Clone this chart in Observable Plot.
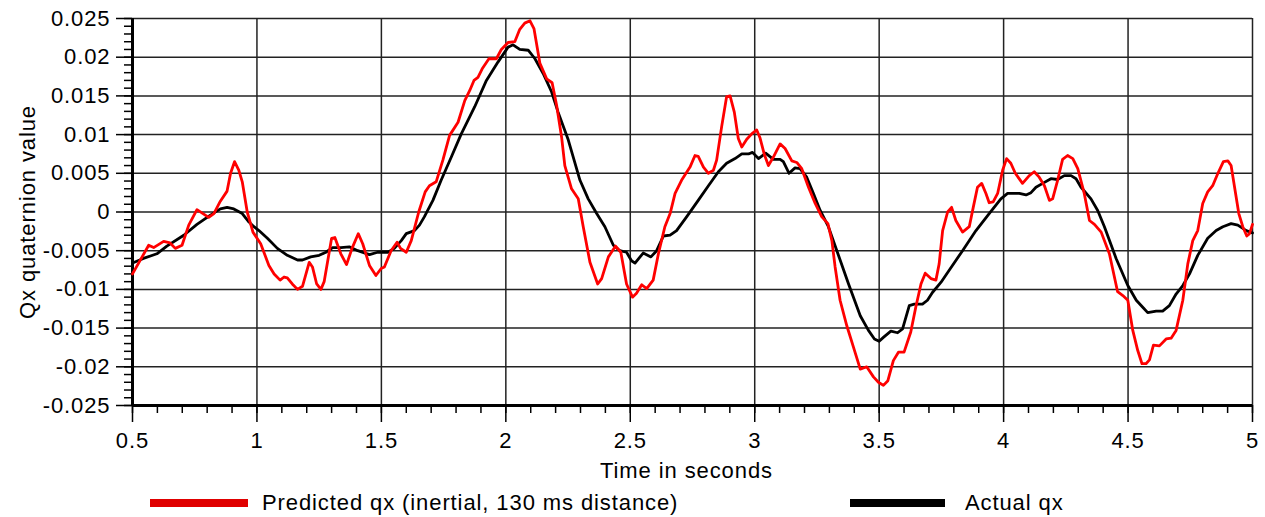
<!DOCTYPE html>
<html>
<head>
<meta charset="utf-8">
<script src="https://cdn.jsdelivr.net/npm/d3@7"></script>
<script src="https://cdn.jsdelivr.net/npm/@observablehq/plot@0.6"></script>
<style>
  body { margin: 0; background: #fff; font-family: "Liberation Sans", Arial, sans-serif; }
  #legend { position: relative; width: 1265px; height: 29px; font-size: 22px; letter-spacing: 0.9px; color: #000; }
  .sw { position: absolute; top: 11px; height: 8px; }
  .lb { position: absolute; top: 2px; line-height: 25px; white-space: nowrap; }
</style>
</head>
<body>
<div id="chart"></div>
<div id="legend">
  <div class="sw" style="left:150px;width:98px;background:#e00000;"></div>
  <div class="lb" style="left:262px;">Predicted qx (inertial, 130 ms distance)</div>
  <div class="sw" style="left:850px;width:95px;background:#000;"></div>
  <div class="lb" style="left:965px;">Actual qx</div>
</div>
<script>
// Predicted qx (inertial, 130 ms distance)
const predT = [0.5,0.565,0.585,0.625,0.651,0.672,0.699,0.726,0.759,0.806,0.827,0.853,0.880,0.894,0.910,0.927,0.941,0.961,0.984,1.015,1.048,1.069,1.093,1.109,1.122,1.142,1.163,1.183,1.210,1.223,1.240,1.257,1.270,1.300,1.313,1.337,1.360,1.382,1.407,1.425,1.452,1.478,1.499,1.512,1.539,1.563,1.577,1.600,1.620,1.650,1.676,1.693,1.720,1.747,1.774,1.808,1.835,1.855,1.872,1.888,1.905,1.932,1.962,1.982,2.009,2.036,2.056,2.076,2.097,2.113,2.137,2.164,2.186,2.204,2.224,2.237,2.264,2.291,2.311,2.338,2.369,2.385,2.412,2.441,2.462,2.485,2.509,2.525,2.546,2.566,2.592,2.613,2.639,2.660,2.680,2.706,2.740,2.760,2.773,2.794,2.814,2.834,2.847,2.867,2.887,2.901,2.918,2.934,2.948,2.968,2.988,3.008,3.021,3.038,3.055,3.075,3.102,3.122,3.149,3.169,3.189,3.216,3.243,3.269,3.294,3.310,3.323,3.343,3.370,3.397,3.424,3.450,3.477,3.497,3.517,3.535,3.557,3.578,3.600,3.627,3.647,3.668,3.685,3.708,3.728,3.741,3.755,3.775,3.791,3.808,3.835,3.862,3.878,3.895,3.912,3.929,3.942,3.958,3.976,3.996,4.012,4.029,4.047,4.076,4.103,4.123,4.143,4.164,4.184,4.197,4.217,4.237,4.257,4.278,4.298,4.324,4.345,4.365,4.392,4.425,4.458,4.479,4.499,4.519,4.539,4.556,4.572,4.586,4.602,4.626,4.653,4.673,4.693,4.720,4.740,4.760,4.780,4.800,4.820,4.840,4.861,4.883,4.901,4.914,4.928,4.945,4.961,4.977,4.988,5.000];
const predQ = [-0.0080,-0.0043,-0.0046,-0.0038,-0.0040,-0.0047,-0.0043,-0.0017,0.0003,-0.0007,-0.0002,0.0014,0.0027,0.0050,0.0065,0.0054,0.0039,0.0000,-0.0026,-0.0041,-0.0069,-0.0080,-0.0088,-0.0084,-0.0085,-0.0093,-0.0100,-0.0096,-0.0065,-0.0071,-0.0093,-0.0100,-0.0090,-0.0034,-0.0033,-0.0054,-0.0068,-0.0047,-0.0028,-0.0041,-0.0069,-0.0082,-0.0073,-0.0071,-0.0050,-0.0039,-0.0047,-0.0052,-0.0037,0.0000,0.0026,0.0034,0.0039,0.0067,0.0099,0.0116,0.0144,0.0157,0.0170,0.0174,0.0185,0.0198,0.0198,0.0210,0.0219,0.0220,0.0236,0.0244,0.0247,0.0237,0.0192,0.0172,0.0167,0.0138,0.0097,0.0060,0.0030,0.0017,-0.0019,-0.0065,-0.0093,-0.0086,-0.0058,-0.0044,-0.0052,-0.0093,-0.0110,-0.0105,-0.0094,-0.0099,-0.0088,-0.0054,-0.0019,-0.0002,0.0024,0.0041,0.0058,0.0073,0.0072,0.0058,0.0050,0.0054,0.0067,0.0110,0.0149,0.0150,0.0129,0.0095,0.0084,0.0094,0.0101,0.0106,0.0096,0.0075,0.0060,0.0071,0.0088,0.0082,0.0066,0.0064,0.0056,0.0032,0.0011,-0.0006,-0.0015,-0.0037,-0.0071,-0.0114,-0.0147,-0.0175,-0.0203,-0.0200,-0.0213,-0.0220,-0.0224,-0.0218,-0.0192,-0.0181,-0.0181,-0.0155,-0.0123,-0.0093,-0.0079,-0.0086,-0.0088,-0.0067,-0.0024,0.0000,0.0006,-0.0011,-0.0026,-0.0019,0.0006,0.0032,0.0037,0.0024,0.0012,0.0013,0.0024,0.0054,0.0069,0.0063,0.0050,0.0037,0.0047,0.0052,0.0045,0.0034,0.0015,0.0017,0.0041,0.0068,0.0073,0.0069,0.0056,0.0024,-0.0011,-0.0016,-0.0026,-0.0054,-0.0103,-0.0108,-0.0114,-0.0153,-0.0179,-0.0196,-0.0196,-0.0191,-0.0172,-0.0173,-0.0164,-0.0163,-0.0153,-0.0114,-0.0067,-0.0037,-0.0024,0.0011,0.0026,0.0034,0.0050,0.0065,0.0066,0.0060,0.0032,-0.0002,-0.0019,-0.0031,-0.0028,-0.0016];

// Actual qx
const actualT = [0.5,0.544,0.598,0.638,0.706,0.759,0.813,0.853,0.880,0.907,0.941,0.968,0.988,1.008,1.042,1.082,1.122,1.163,1.183,1.216,1.250,1.277,1.304,1.337,1.371,1.405,1.452,1.485,1.526,1.552,1.580,1.600,1.633,1.653,1.673,1.707,1.740,1.781,1.821,1.875,1.922,1.969,2.009,2.029,2.056,2.090,2.117,2.150,2.184,2.210,2.251,2.298,2.331,2.365,2.398,2.432,2.458,2.485,2.505,2.519,2.552,2.583,2.606,2.633,2.660,2.686,2.727,2.773,2.814,2.854,2.887,2.921,2.948,2.975,2.991,3.015,3.044,3.075,3.102,3.115,3.138,3.162,3.182,3.209,3.236,3.263,3.296,3.330,3.377,3.424,3.457,3.481,3.500,3.517,3.547,3.574,3.594,3.621,3.641,3.674,3.694,3.714,3.748,3.782,3.835,3.889,3.942,3.989,4.016,4.063,4.090,4.110,4.130,4.157,4.190,4.217,4.244,4.271,4.291,4.311,4.351,4.378,4.405,4.452,4.499,4.533,4.559,4.579,4.613,4.639,4.666,4.693,4.720,4.747,4.780,4.820,4.854,4.881,4.914,4.941,4.975,5.000];
const actualQ = [-0.0066,-0.0060,-0.0054,-0.0044,-0.0030,-0.0016,-0.0004,0.0004,0.0006,0.0004,-0.0002,-0.0013,-0.0019,-0.0024,-0.0034,-0.0047,-0.0056,-0.0062,-0.0062,-0.0058,-0.0056,-0.0052,-0.0046,-0.0046,-0.0045,-0.0050,-0.0055,-0.0052,-0.0052,-0.0047,-0.0037,-0.0028,-0.0024,-0.0017,-0.0006,0.0015,0.0041,0.0071,0.0101,0.0136,0.0170,0.0194,0.0213,0.0216,0.0210,0.0209,0.0198,0.0179,0.0155,0.0129,0.0093,0.0041,0.0017,-0.0002,-0.0019,-0.0043,-0.0050,-0.0052,-0.0063,-0.0066,-0.0053,-0.0058,-0.0050,-0.0031,-0.0030,-0.0024,-0.0006,0.0015,0.0034,0.0052,0.0063,0.0069,0.0075,0.0075,0.0077,0.0069,0.0076,0.0068,0.0068,0.0065,0.0050,0.0057,0.0056,0.0045,0.0024,0.0002,-0.0019,-0.0050,-0.0093,-0.0134,-0.0153,-0.0164,-0.0167,-0.0162,-0.0154,-0.0156,-0.0151,-0.0121,-0.0119,-0.0119,-0.0114,-0.0104,-0.0091,-0.0075,-0.0050,-0.0024,-0.0002,0.0017,0.0024,0.0024,0.0022,0.0025,0.0032,0.0037,0.0043,0.0042,0.0047,0.0047,0.0043,0.0032,0.0017,0.0002,-0.0019,-0.0060,-0.0095,-0.0114,-0.0123,-0.0130,-0.0128,-0.0128,-0.0121,-0.0106,-0.0095,-0.0080,-0.0056,-0.0034,-0.0024,-0.0019,-0.0015,-0.0017,-0.0024,-0.0027];

// Tick values
const xMajor = [0.5, 1, 1.5, 2, 2.5, 3, 3.5, 4, 4.5, 5];
const xMajorLabels = ["0.5", "1", "1.5", "2", "2.5", "3", "3.5", "4", "4.5", "5"];
const yMajor = [0.025, 0.02, 0.015, 0.01, 0.005, 0, -0.005, -0.01, -0.015, -0.02, -0.025];
const yMajorLabels = ["0.025", "0.02", "0.015", "0.01", "0.005", "0", "-0.005", "-0.01", "-0.015", "-0.02", "-0.025"];
const xMinor = d3.range(5, 51).map(i => i / 10);
const yMinor = d3.range(-25, 26).map(i => i / 1000);

const pred = predT.map((t, i) => ({t, q: predQ[i]}));
const actual = actualT.map((t, i) => ({t, q: actualQ[i]}));

const xLab = new Map(xMajor.map((v, i) => [v, xMajorLabels[i]]));
const yLab = new Map(yMajor.map((v, i) => [v, yMajorLabels[i]]));

const chart = Plot.plot({
  width: 1265,
  height: 488,
  marginLeft: 132,
  marginRight: 13,
  marginTop: 18,
  marginBottom: 83,
  style: {fontFamily: "Liberation Sans, Arial, sans-serif", fontSize: "22px", color: "#000", background: "#fff", letterSpacing: "0.9px"},
  x: {domain: [0.5, 5]},
  y: {domain: [-0.025, 0.025]},
  marks: [
    Plot.gridY(yMajor, {stroke: "#222", strokeOpacity: 1, strokeWidth: 1.5}),
    Plot.gridX(xMajor, {stroke: "#222", strokeOpacity: 1, strokeWidth: 1.5}),
    Plot.axisY(yMinor, {tickSize: 8, tickFormat: () => "", label: null, strokeWidth: 1.5}),
    Plot.axisY(yMajor, {tickSize: 16, tickPadding: 6, tickFormat: d => yLab.get(d), label: null, strokeWidth: 1.5, fontSize: 22}),
    Plot.axisX(xMinor, {tickSize: 8, tickFormat: () => "", label: null, strokeWidth: 1.5}),
    Plot.axisX(xMajor, {tickSize: 17, tickPadding: 10, tickFormat: d => xLab.get(d), label: null, strokeWidth: 1.5, fontSize: 22}),
    Plot.ruleX([0.5], {stroke: "#000", strokeWidth: 3}),
    Plot.ruleY([-0.025], {stroke: "#000", strokeWidth: 3}),
    Plot.line(actual, {x: "t", y: "q", stroke: "#000", strokeWidth: 2.8}),
    Plot.line(pred, {x: "t", y: "q", stroke: "#ff0000", strokeWidth: 2.8}),
    Plot.text(["Time in seconds"], {text: d => d, frameAnchor: "bottom", textAnchor: "middle", lineAnchor: "middle", dx: -6, dy: 65, fontSize: 22, fill: "#000"}),
    Plot.text(["Qx quaternion value"], {text: d => d, frameAnchor: "left", textAnchor: "middle", lineAnchor: "middle", dx: -105, rotate: -90, fontSize: 22, fill: "#000"})
  ]
});
document.getElementById("chart").appendChild(chart);
</script>
</body>
</html>
